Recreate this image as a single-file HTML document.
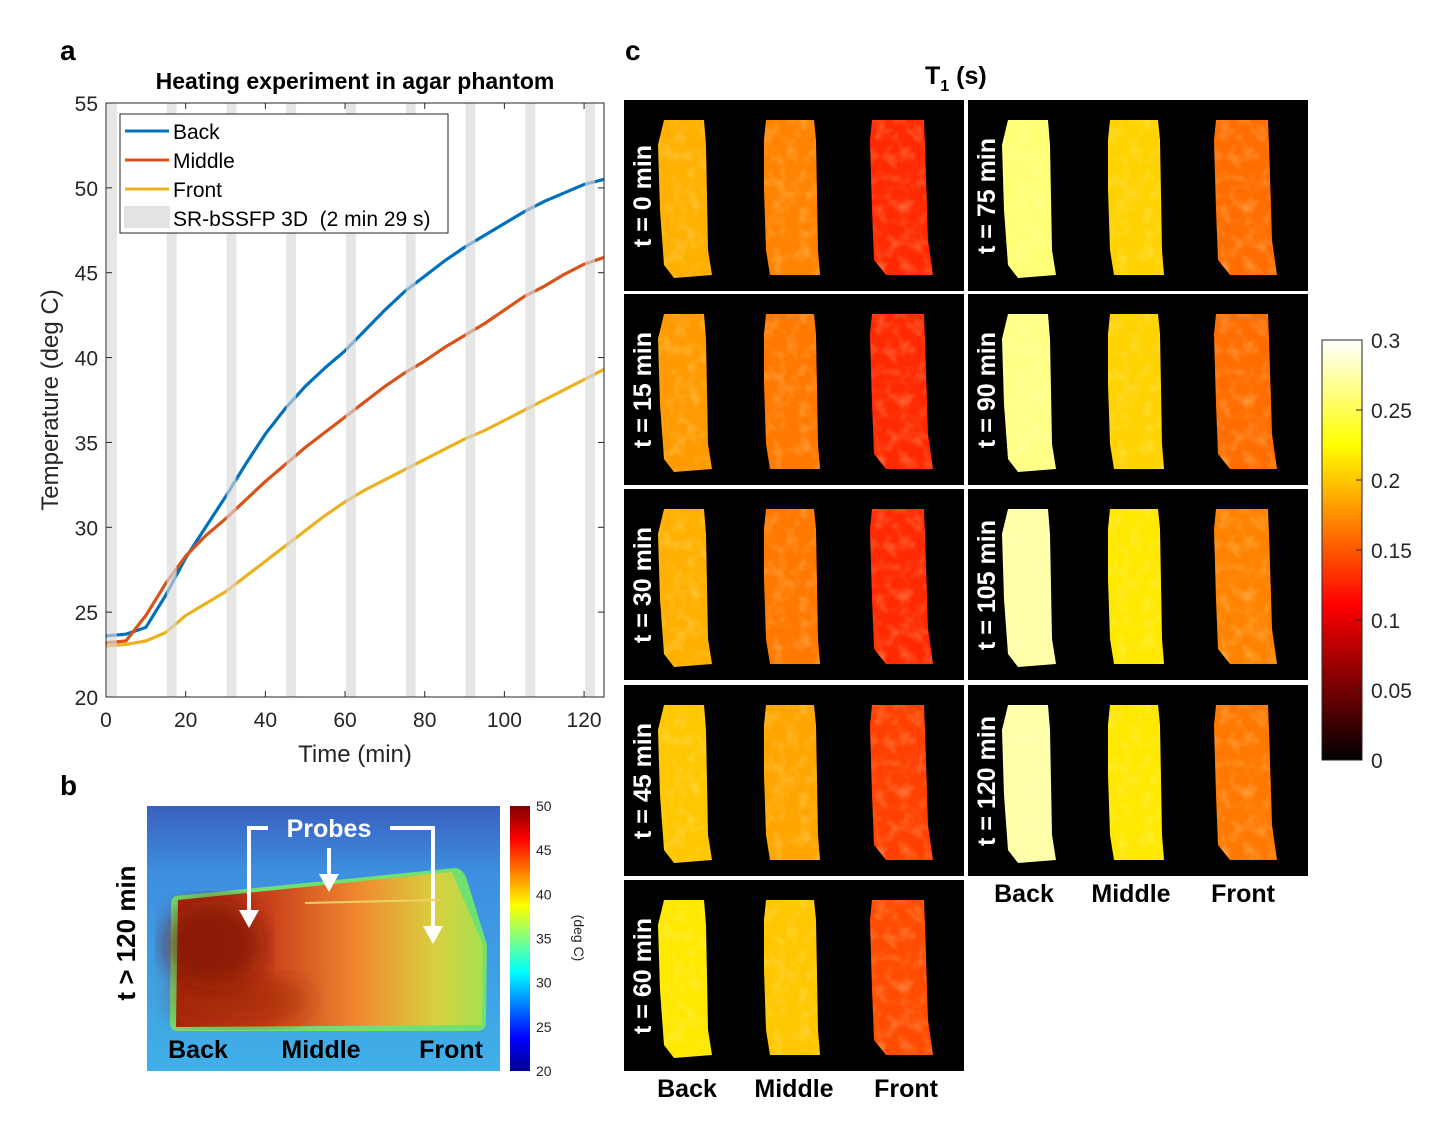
<!DOCTYPE html>
<html><head><meta charset="utf-8">
<style>
html,body{margin:0;padding:0;background:#fff;}
svg{display:block;font-family:"Liberation Sans",sans-serif;}
</style></head>
<body>
<svg id="fig" width="1444" height="1125" viewBox="0 0 1444 1125">
<defs>
  <linearGradient id="hotbar" x1="0" y1="1" x2="0" y2="0">
    <stop offset="0" stop-color="#000"/>
    <stop offset="0.37" stop-color="#f00"/>
    <stop offset="0.75" stop-color="#ff0"/>
    <stop offset="1" stop-color="#fff"/>
  </linearGradient>
  <linearGradient id="jetbar" x1="0" y1="1" x2="0" y2="0">
    <stop offset="0" stop-color="#00008f"/>
    <stop offset="0.125" stop-color="#0000ff"/>
    <stop offset="0.375" stop-color="#00ffff"/>
    <stop offset="0.625" stop-color="#ffff00"/>
    <stop offset="0.875" stop-color="#ff0000"/>
    <stop offset="1" stop-color="#800000"/>
  </linearGradient>
  <linearGradient id="phantom" x1="0" y1="0" x2="1" y2="0">
    <stop offset="0" stop-color="#a8260e"/>
    <stop offset="0.3" stop-color="#c8401a"/>
    <stop offset="0.6" stop-color="#f08a30"/>
    <stop offset="0.85" stop-color="#d8d040"/>
    <stop offset="1" stop-color="#a8e050"/>
  </linearGradient>
  <linearGradient id="bgthermal" x1="0" y1="0" x2="0" y2="1">
    <stop offset="0" stop-color="#3a5fc0"/>
    <stop offset="0.25" stop-color="#3d8fe0"/>
    <stop offset="1" stop-color="#40b0e8"/>
  </linearGradient>
  <filter id="noise" x="0" y="0" width="100%" height="100%">
    <feTurbulence type="fractalNoise" baseFrequency="0.08" numOctaves="2" seed="3"/>
    <feColorMatrix type="matrix" values="0 0 0 0 1  0 0 0 0 1  0 0 0 0 0.6  0 0 0 1.6 -0.7"/>
  </filter>
  <filter id="blur"><feGaussianBlur stdDeviation="12"/></filter>
</defs>
<g id="panelA"></g>
<g id="panelB"></g>
<g id="panelC"></g>
</svg>
<script>
const timeMin = [0,5,10,15,20,25,30,35,40,45,50,55,60,65,70,75,80,85,90,95,100,105,110,115,120,125];
const backTemp = [23.6,23.7,24.1,26.0,28.2,30.0,31.8,33.7,35.5,37.0,38.3,39.4,40.4,41.6,42.8,43.9,44.8,45.7,46.5,47.2,47.9,48.6,49.2,49.7,50.2,50.5];
const middleTemp = [23.2,23.3,24.8,26.7,28.3,29.5,30.5,31.6,32.7,33.7,34.7,35.6,36.5,37.4,38.3,39.1,39.8,40.6,41.3,42.0,42.8,43.6,44.2,44.9,45.5,45.9];
const frontTemp = [23.0,23.1,23.3,23.8,24.8,25.5,26.2,27.1,28.0,28.9,29.8,30.7,31.5,32.2,32.8,33.4,34.0,34.6,35.2,35.7,36.3,36.9,37.5,38.1,38.7,39.3];
const scanStarts = [0.25,15.25,30.25,45.25,60.25,75.25,90.25,105.25,120.25];
const scanDuration = 2.48;
const xTicks = [0,20,40,60,80,100,120];
const yTicks = [20,25,30,35,40,45,50,55];
const thermalTicks = [20,25,30,35,40,45,50];
const t1Ticks = [0,0.05,0.1,0.15,0.2,0.25,0.3];
const timeLabels = ["t = 0 min","t = 15 min","t = 30 min","t = 45 min","t = 60 min","t = 75 min","t = 90 min","t = 105 min","t = 120 min"];
const backT1 = [0.19,0.18,0.19,0.20,0.215,0.26,0.265,0.275,0.275];
const middleT1 = [0.17,0.165,0.165,0.185,0.20,0.205,0.205,0.215,0.215];
const frontT1 = [0.13,0.13,0.13,0.14,0.145,0.16,0.16,0.17,0.165];

const NS="http://www.w3.org/2000/svg";
function mk(tag,attrs,parent){const e=document.createElementNS(NS,tag);for(const k in attrs)e.setAttribute(k,attrs[k]);parent.appendChild(e);return e;}
function txt(s,attrs,parent){const e=mk('text',attrs,parent);e.textContent=s;return e;}

// ---------- Panel A ----------
const A=document.getElementById('panelA');
const X0=106,X1=604,Y0=697,Y1=103;
const xs=v=>X0+v*(X1-X0)/125;
const ys=v=>Y0-(v-20)*(Y0-Y1)/35;
let r=mk('rect',{x:X0,y:Y1,width:X1-X0,height:Y0-Y1,fill:'#fff'},A);

const series=[[backTemp,'#0072bd','back-line'],[middleTemp,'#d95319','middle-line'],[frontTemp,'#edb120','front-line']];
series.forEach(s=>{
  const p=mk('polyline',{points:timeMin.map((tm,i)=>xs(tm)+','+ys(s[0][i])).join(' '),fill:'none',stroke:s[1],'stroke-width':3.2,'stroke-linejoin':'round'},A);
  
});
scanStarts.forEach(st=>{
  const b=mk('rect',{x:xs(st),y:Y1,width:xs(st+scanDuration)-xs(st),height:Y0-Y1,fill:'#d9d9d9','fill-opacity':0.65},A);
  
});
r=mk('rect',{x:X0,y:Y1,width:X1-X0,height:Y0-Y1,fill:'none',stroke:'#262626','stroke-width':1},A);

xTicks.forEach(v=>{
  mk('line',{x1:xs(v),x2:xs(v),y1:Y0,y2:Y0-6,stroke:'#262626'},A);
  mk('line',{x1:xs(v),x2:xs(v),y1:Y1,y2:Y1+6,stroke:'#262626'},A);
  const l=txt(String(v),{x:xs(v),y:Y0+30,'font-size':21,'text-anchor':'middle',fill:'#262626'},A);
  
});
yTicks.forEach(v=>{
  mk('line',{x1:X0,x2:X0+6,y1:ys(v),y2:ys(v),stroke:'#262626'},A);
  mk('line',{x1:X1,x2:X1-6,y1:ys(v),y2:ys(v),stroke:'#262626'},A);
  const l=txt(String(v),{x:X0-8,y:ys(v)+8,'font-size':21,'text-anchor':'end',fill:'#262626'},A);
  
});
let t=txt('Time (min)',{x:355,y:762,'font-size':24,'text-anchor':'middle',fill:'#262626'},A);

t=txt('Temperature (deg C)',{x:0,y:0,'font-size':24,'text-anchor':'middle',fill:'#262626',transform:'translate(58,400) rotate(-90)'},A);

t=txt('Heating experiment in agar phantom',{x:355,y:89,'font-size':23,'font-weight':'bold','text-anchor':'middle',fill:'#000'},A);

t=txt('a',{x:60,y:60,'font-size':28,'font-weight':'bold',fill:'#000'},A);

const L=mk('g',{},A);
mk('rect',{x:120,y:114,width:328,height:119,fill:'#fff',stroke:'#262626','stroke-width':1},L);
[['Back','#0072bd'],['Middle','#d95319'],['Front','#edb120']].forEach((e,i)=>{
  const g=mk('g',{},L);
  mk('line',{x1:125,x2:169,y1:131+i*29,y2:131+i*29,stroke:e[1],'stroke-width':3},g);
  txt(e[0],{x:173,y:139+i*29,'font-size':21,fill:'#000'},g);
});
const g4=mk('g',{},L);
mk('rect',{x:124,y:206,width:46,height:22,fill:'#e3e3e3'},g4);
txt('SR-bSSFP 3D\u00a0\u00a0(2 min 29 s)',{x:173,y:226,'font-size':21,fill:'#000'},g4);

// ---------- Panel B ----------
const PB=document.getElementById('panelB');
t=txt('b',{x:60,y:795,'font-size':28,'font-weight':'bold',fill:'#000'},PB);

t=txt('t > 120 min',{x:0,y:0,'font-size':26,'font-weight':'bold','text-anchor':'middle',fill:'#000',transform:'translate(135,933) rotate(-90)'},PB);

r=mk('rect',{x:147,y:806,width:353,height:265,fill:'url(#bgthermal)'},PB);

const cpB=mk('clipPath',{id:'cpB'},PB);mk('rect',{x:147,y:806,width:353,height:265},cpB);
const bImg=mk('g',{'clip-path':'url(#cpB)'},PB);
mk('path',{d:'M176,896 L455,868 Q463,868 467,880 L487,945 L486,1024 Q485,1031 476,1031 L178,1031 Q170,1031 170,1022 L171,905 Q171,897 176,896 Z',fill:'#70e070'},bImg);
let ph=mk('path',{d:'M178,900 L452,872 L483,945 L482,1025 L176,1027 Z',fill:'url(#phantom)'},bImg);

mk('ellipse',{cx:215,cy:945,rx:50,ry:45,fill:'#7a1206','fill-opacity':0.7,filter:'url(#blur)'},bImg);
mk('ellipse',{cx:240,cy:1000,rx:70,ry:25,fill:'#9a2008','fill-opacity':0.5,filter:'url(#blur)'},bImg);
const arr=mk('g',{fill:'none',stroke:'#fff','stroke-width':4},PB);

mk('polyline',{points:'268,828 249,828 249,912'},arr);
mk('polyline',{points:'390,828 433,828 433,928'},arr);
mk('line',{x1:329,y1:848,x2:329,y2:878},arr);
mk('line',{x1:305,y1:903,x2:440,y2:900,'stroke-width':2,stroke:'#f0d060'},arr);
[[249,928],[433,944],[329,892]].forEach(p=>{mk('polygon',{points:`${p[0]-10},${p[1]-18} ${p[0]+10},${p[1]-18} ${p[0]},${p[1]}`,fill:'#fff',stroke:'none'},arr);});
t=txt('Probes',{x:329,y:837,'font-size':25,'font-weight':'bold','text-anchor':'middle',fill:'#fff'},PB);

[['Back',198],['Middle',321],['Front',451]].forEach(e=>{
  const l=txt(e[0],{x:e[1],y:1058,'font-size':25,'font-weight':'bold','text-anchor':'middle',fill:'#000'},PB);
  
});
r=mk('rect',{x:510,y:806,width:20,height:265,fill:'url(#jetbar)'},PB);

thermalTicks.forEach(v=>{
  const y=1071-(v-20)*265/30;
  const l=txt(String(v),{x:536,y:y+5,'font-size':14,fill:'#262626'},PB);
  
});
t=txt('(deg C)',{x:0,y:0,'font-size':14,'text-anchor':'middle',fill:'#262626',transform:'translate(574,938) rotate(90)'},PB);


// ---------- Panel C ----------
const C=document.getElementById('panelC');
t=txt('c',{x:625,y:60,'font-size':28,'font-weight':'bold',fill:'#000'},C);

t=mk('text',{x:925,y:84,'font-size':25,'font-weight':'bold',fill:'#000'},C);

const ts1=mk('tspan',{},t);ts1.textContent='T';
const ts2=mk('tspan',{'font-size':16,dy:7},t);ts2.textContent='1';
const ts3=mk('tspan',{dy:-7},t);ts3.textContent=' (s)';
function hot(v){
  const f=Math.max(0,Math.min(1,v/0.3));
  let R,G,Bc;
  if(f<0.37){R=f/0.37*255;G=0;Bc=0;}
  else if(f<0.75){R=255;G=(f-0.37)/0.38*255;Bc=0;}
  else{R=255;G=255;Bc=(f-0.75)/0.25*255;}
  return `rgb(${R|0},${G|0},${Bc|0})`;
}
const shapes=[
 'M40,20 L80,20 L82,45 L84,150 L88,175 L50,178 L40,165 L36,110 L34,45 Z',
 'M142,20 L190,20 L192,40 L194,150 L196,175 L146,175 L142,150 L140,90 L140,40 Z',
 'M248,20 L300,20 L301,45 L304,140 L309,175 L262,175 L250,160 L248,110 L246,40 Z'
];
const rowsY=[100,294,489,685,880];
timeLabels.forEach((lab,i)=>{
  const col=i<5?0:1, row=i<5?i:i-5;
  const px=col?968:624, py=rowsY[row];
  const g=mk('g',{transform:`translate(${px},${py})`},C);
  
  mk('rect',{x:0,y:0,width:340,height:191,fill:'#000'},g);
  [backT1[i],middleT1[i],frontT1[i]].forEach((v,j)=>{
    const s=mk('path',{d:shapes[j],fill:hot(v)},g);
    
    const cp=mk('clipPath',{id:`cp${i}_${j}`},g);mk('path',{d:shapes[j]},cp);
    mk('rect',{x:0,y:0,width:340,height:191,filter:'url(#noise)','clip-path':`url(#cp${i}_${j})`,opacity:0.35},g);
  });
  const l=txt(lab,{x:0,y:0,'font-size':25,'font-weight':'bold','text-anchor':'middle',fill:'#fff',transform:'translate(27,96) rotate(-90)'},g);
  
});
const colLabels=[['Back',687,1097],['Middle',794,1097],['Front',906,1097],['Back',1024,902],['Middle',1131,902],['Front',1243,902]];
colLabels.forEach(e=>{
  const l=txt(e[0],{x:e[1],y:e[2],'font-size':25,'font-weight':'bold','text-anchor':'middle',fill:'#000'},C);
  
});
r=mk('rect',{x:1322,y:340,width:40,height:420,fill:'url(#hotbar)',stroke:'#262626','stroke-width':1},C);

t1Ticks.forEach(v=>{
  const y=760-v*420/0.3;
  mk('line',{x1:1356,x2:1362,y1:y,y2:y,stroke:'#262626'},C);
  const l=txt(String(v),{x:1371,y:y+8,'font-size':21,fill:'#262626'},C);
  
});
</script>
</body></html>
